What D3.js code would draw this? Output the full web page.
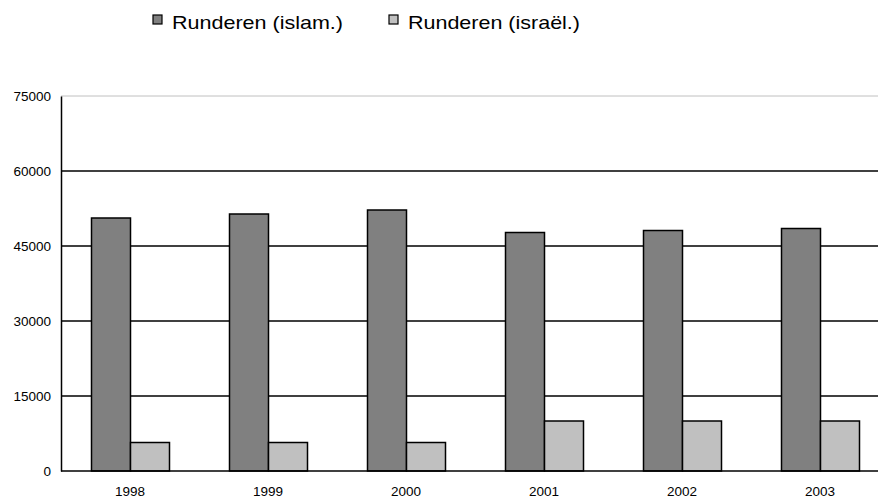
<!DOCTYPE html>
<html>
<head>
<meta charset="utf-8">
<script src="https://cdn.jsdelivr.net/npm/d3@7"></script>
<style>
body{margin:0;background:#fff;}
text{font-family:"Liberation Sans",Arial,sans-serif;fill:#000;}
</style>
</head>
<body>
<svg></svg>
<script>
var years=["1998","1999","2000","2001","2002","2003"]
var islam=[50600,51400,52200,47700,48100,48500]
var israel=[5700,5700,5700,10000,10000,10000]
var seriesNames=["Runderen (islam.)","Runderen (israël.)"]
var seriesColors=["#808080","#c0c0c0"]
var yTicks=[0,15000,30000,45000,60000,75000]

var width=878, height=500
var margins={top:96,bottom:29,left:61}

var svg=d3.select("svg")
    .attr("width",width)
    .attr("height",height)

var xScale=d3.scaleBand()
    .domain(years)
    .range([margins.left,margins.left+6*138])

var inner=d3.scaleBand()
    .domain([0,1])
    .range([0,78])

var yScale=d3.scaleLinear()
    .domain([0,75000])
    .range([height-margins.bottom,margins.top])

//gridlines
svg.selectAll(".grid")
    .data(yTicks.slice(1))
    .enter()
    .append("line")
    .attr("class","grid")
    .attr("x1",margins.left)
    .attr("x2",width)
    .attr("y1",function(d){return yScale(d)})
    .attr("y2",function(d){return yScale(d)})
    .attr("stroke",function(d){return d==75000?"#c0c0c0":"#000"})
    .attr("stroke-width",function(d){return d==75000?1:1.3})

var data=years.map(function(y,i){return {year:y,vals:[islam[i],israel[i]]}})

var groups=svg.selectAll(".grp")
    .data(data)
    .enter()
    .append("g")
    .attr("transform",function(d){return "translate("+(xScale(d.year)+xScale.bandwidth()/2-39+0.5)+",0)"})

groups.selectAll("rect")
    .data(function(d){return d.vals})
    .enter()
    .append("rect")
    .attr("x",function(d,i){return inner(i)})
    .attr("y",function(d){return yScale(d)})
    .attr("width",inner.bandwidth())
    .attr("height",function(d){return yScale(0)-yScale(d)})
    .attr("fill",function(d,i){return seriesColors[i]})
    .attr("stroke","#000")
    .attr("stroke-width",1.5)

//axes
var yAxis=d3.axisLeft(yScale).tickValues(yTicks).tickSize(0).tickPadding(10).tickFormat(d3.format("d"))
svg.append("g")
    .attr("transform","translate("+margins.left+",0)")
    .call(yAxis)
    .call(function(g){g.select(".domain").attr("stroke","#000").attr("stroke-width",1.5)})
    .selectAll("text").style("font-size","13.5px")

svg.append("line")
    .attr("x1",margins.left).attr("x2",width)
    .attr("y1",yScale(0)).attr("y2",yScale(0))
    .attr("stroke","#000").attr("stroke-width",1.5)

var xAxis=d3.axisBottom(xScale).tickSize(0).tickPadding(15)
svg.append("g")
    .attr("transform","translate(0,"+yScale(0)+")")
    .call(xAxis)
    .call(function(g){g.select(".domain").remove()})
    .selectAll("text").style("font-size","13.5px")

//legend
var legX=[153,389]
var legLen=[171,172]
var leg=svg.selectAll(".leg")
    .data(seriesNames)
    .enter()
    .append("g")
    .attr("transform",function(d,i){return "translate("+legX[i]+",15)"})
leg.append("rect")
    .attr("width",9).attr("height",9)
    .attr("fill",function(d,i){return seriesColors[i]})
    .attr("stroke","#000").attr("stroke-width",1.2)
leg.append("text")
    .attr("x",19).attr("y",14)
    .attr("textLength",function(d,i){return legLen[i]})
    .attr("lengthAdjust","spacingAndGlyphs")
    .style("font-size","18.5px")
    .text(function(d){return d})
</script>
</body>
</html>
